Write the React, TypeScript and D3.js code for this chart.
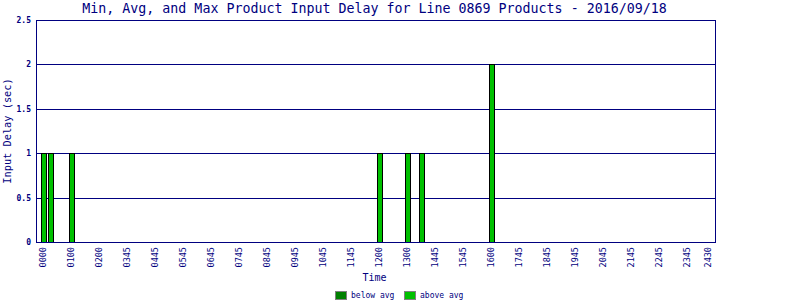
import React from "react";
import * as d3 from "d3";

const TITLE = "Min, Avg, and Max Product Input Delay for Line 0869 Products - 2016/09/18";
const Y_TICKS = [0, 0.5, 1, 1.5, 2, 2.5];
const X_TICK_HOURS = [0, 1, 2, 3, 4, 5, 6, 7, 8, 9, 10, 11, 12, 13, 14, 15, 16, 17, 18, 19, 20, 21, 22, 23, 23.75];
const X_TICK_LABELS = ["0000", "0100", "0200", "0345", "0445", "0545", "0645", "0745", "0845", "0945", "1045", "1145", "1200", "1300", "1445", "1545", "1600", "1745", "1845", "1945", "2045", "2145", "2245", "2345", "2430"];
const BAR_HOURS = [0, 0.25, 1, 12, 13, 13.5, 16];
const BAR_VALUES = [1, 1, 1, 1, 1, 1, 2];
const BAR_KIND = ["above", "above", "above", "above", "above", "above", "above"];
const LEGEND = [
  { key: "below", label: "below avg" },
  { key: "above", label: "above avg" },
];

const NAVY = "#000080";
const COLORS: Record<string, string> = { below: "#008000", above: "#00c000" };
const FONT = "'DejaVu Sans Mono', monospace";

export default function App() {
  const W = 800, H = 300;
  const left = 36, right = 715, top = 20, bottom = 242;
  const x = d3.scaleLinear().domain([-0.25, 24]).range([left, right]);
  const y = d3.scaleLinear().domain([0, 2.5]).range([bottom, top]);

  return (
    <svg width={W} height={H} style={{ position: "absolute", left: 0, top: 0, display: "block", background: "#fff" }}>
      <rect x={0} y={0} width={W} height={H} fill="#fff" />
      <text x={374.5} y={13} textAnchor="middle" fontFamily={FONT} fontSize={13.3} fill={NAVY}>{TITLE}</text>

      {/* grid */}
      {Y_TICKS.map((t) => (
        <g key={t}>
          <line x1={left} x2={right} y1={Math.round(y(t)) + 0.5} y2={Math.round(y(t)) + 0.5} stroke={NAVY} strokeWidth={1} shapeRendering="crispEdges" />
          <text x={31} y={Math.round(y(t)) + 3} textAnchor="end" fontFamily={FONT} fontSize={8} fontWeight="bold" fill={NAVY}>{String(t)}</text>
        </g>
      ))}
      {/* frame */}
      <line x1={left + 0.5} x2={left + 0.5} y1={top} y2={bottom + 1} stroke={NAVY} shapeRendering="crispEdges" />
      <line x1={right + 0.5} x2={right + 0.5} y1={top} y2={bottom + 1} stroke={NAVY} shapeRendering="crispEdges" />

      {/* bars */}
      {BAR_HOURS.map((h, i) => {
        const cx = Math.round(x(h));
        const yt = Math.round(y(BAR_VALUES[i]));
        return (
          <rect key={i} x={cx - 2 + 0.5} y={yt + 0.5} width={5} height={bottom - yt} fill={COLORS[BAR_KIND[i]]} stroke="#000" strokeWidth={1} shapeRendering="crispEdges" />
        );
      })}
      {/* redraw baseline */}
      <line x1={left} x2={right + 1} y1={bottom + 0.5} y2={bottom + 0.5} stroke={NAVY} shapeRendering="crispEdges" />

      {/* x tick labels */}
      {X_TICK_HOURS.map((h, i) => {
        const cx = x(h) + 3;
        return (
          <text key={i} transform={`translate(${cx},${bottom + 5}) rotate(-90)`} textAnchor="end" fontFamily={FONT} fontSize={8.5} fill={NAVY}>{X_TICK_LABELS[i]}</text>
        );
      })}

      {/* axis titles */}
      <text x={374.5} y={281} textAnchor="middle" fontFamily={FONT} fontSize={10} fill={NAVY}>Time</text>
      <text transform={`translate(11,131) rotate(-90)`} textAnchor="middle" fontFamily={FONT} fontSize={10.3} fill={NAVY}>Input Delay (sec)</text>

      {/* legend */}
      {LEGEND.map((l, i) => {
        const bx = 335 + i * 69;
        return (
          <g key={l.key}>
            <rect x={bx + 0.5} y={291.5} width={11} height={8} fill={COLORS[l.key]} stroke="#808080" strokeWidth={1} shapeRendering="crispEdges" />
            <text x={bx + 16} y={298} fontFamily={FONT} fontSize={8} fill={NAVY}>{l.label}</text>
          </g>
        );
      })}
    </svg>
  );
}
